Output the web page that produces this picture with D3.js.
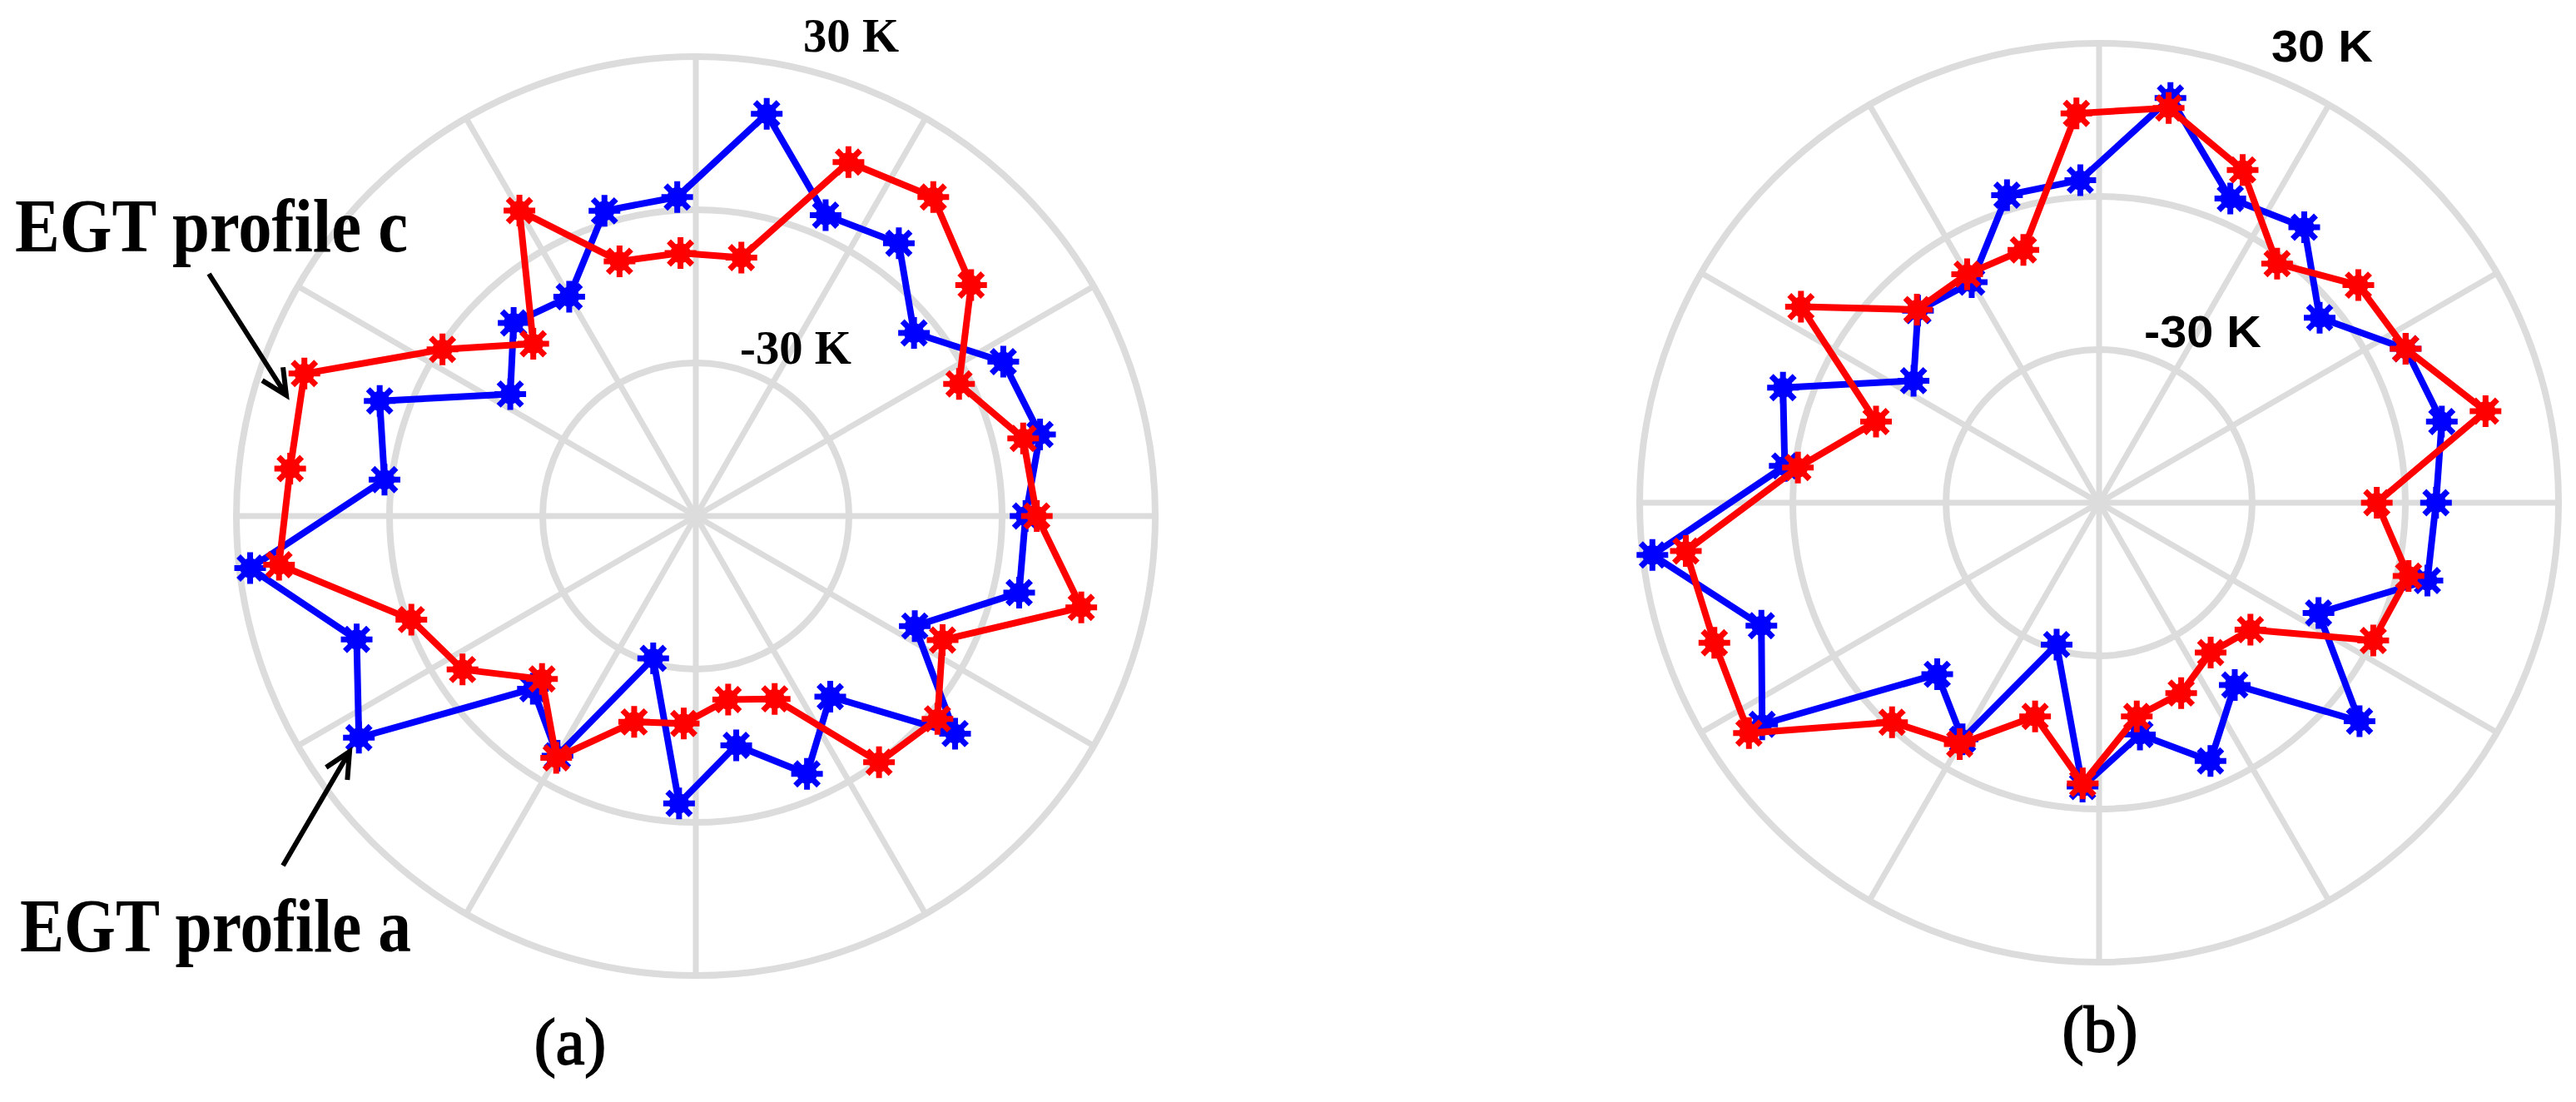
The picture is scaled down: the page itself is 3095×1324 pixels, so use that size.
<!DOCTYPE html>
<html>
<head>
<meta charset="utf-8">
<script src="https://cdn.jsdelivr.net/npm/d3@7"></script>
<style>
  body { margin: 0; background: #fff; }
</style>
</head>
<body>
<div class="svgcontainer"></div>
<script>
// 27 thermocouples around the exhaust, index 0 = 3 o'clock, counter-clockwise
const probes = d3.range(27);
const rTicks = [-30, 0, 30];
const rTickLabels = ["-30 K", "30 K"];

// panel (a)
const aProfileA = [4.6, 9.3, 7.4, -4.2, 6.6, 4.2, 20, 2.6, 2.4, -10.4, -8.0, -16.5, 5.9, 1.4, 27.9,
    10.7, 19, -13.5, -5.8, -30.9, -3.6, -14.4, -5.0, -15.9, 6.3, -12, 5.1];
const aProfileC = [6.8, 5.9, -2.3, 10.4, 17.9, 15.5, -8.6, -8.4, -7.9, 9.1, -13.6, -0.6, 21.6, 20, 22.2,
    -0.7, -5.3, -16.1, -5.3, -17.9, -19.3, -23.5, -21, 0.1, 1.8, -5.9, 17.6];

// panel (b)
const bProfileA = [6, 9, 7.2, -3.6, 7.3, 4.9, 20.5, 3.3, 2.9, -10.1, -8.3, -16.5, 5.9, 2, 28.1,
    10.4, 19, -13.8, -6.5, -31, -4.3, -13.9, -4.9, -15.5, 6.6, -11.9, 6.1];
const bProfileRed = [-5.6, 17.8, 7.2, 6.3, -1.6, 11, 18.5, 16.4, -8.3, -8.3, -8, 9.9, -13.5, -0.6, 21.5,
    20.2, 22.1, -0.9, -5.4, -16.3, -4.9, -17.5, -19.4, -23.4, -21.3, 0.1, 2.3];

const W = 3095, H = 1324;
const R = 552;
const gridColor = "#dcdcdc";

const svg = d3.select('.svgcontainer')
    .append('svg')
    .attr('width', W)
    .attr('height', H);

// k -> angle for d3 (0 at 12 o'clock, clockwise)
const angleScale = d3.scaleLinear().domain([0, 27]).range([Math.PI / 2, Math.PI / 2 - 2 * Math.PI]);
const rScale = d3.scaleLinear().domain([-60, 30]).range([0, R]);

function drawPolar(cx, cy, series, opts)
{
    const g = svg.append('g').attr('transform', `translate(${cx}, ${cy})`);

    // spokes every 30 deg
    g.selectAll('.spoke')
        .data(d3.range(12))
        .enter()
        .append('line')
        .attr('x1', 0).attr('y1', 0)
        .attr('x2', d => d3.pointRadial(d * Math.PI / 6, R)[0])
        .attr('y2', d => d3.pointRadial(d * Math.PI / 6, R)[1])
        .attr('stroke', gridColor)
        .attr('stroke-width', 7);

    g.selectAll('.ring')
        .data(rTicks)
        .enter()
        .append('circle')
        .attr('r', d => rScale(d))
        .attr('fill', 'none')
        .attr('stroke', gridColor)
        .attr('stroke-width', 8);

    // ring labels
    opts.labels.forEach(function(l, i)
    {
        g.append('text')
            .attr('x', l.dx)
            .attr('y', l.dy)
            .attr('font-family', opts.labelFont)
            .attr('font-weight', 'bold')
            .attr('font-size', opts.labelSize)
            .attr('textLength', l.len)
            .attr('lengthAdjust', 'spacingAndGlyphs')
            .text(rTickLabels[i]);
    });

    const line = d3.lineRadial()
        .angle(k => angleScale(k))
        .curve(d3.curveLinearClosed);

    series.forEach(function(s)
    {
        line.radius(k => rScale(s.values[k]));
        g.append('path')
            .attr('d', line(probes))
            .attr('fill', 'none')
            .attr('stroke', s.color)
            .attr('stroke-width', 8)
            .attr('stroke-linejoin', 'round');

        const m = g.selectAll(null)
            .data(probes)
            .enter()
            .append('g')
            .attr('transform', k => {
                const p = d3.pointRadial(angleScale(k), rScale(s.values[k]));
                return `translate(${p[0]}, ${p[1]})`;
            });
        m.append('circle')
            .attr('r', 12)
            .attr('fill', s.color);
        m.append('path')
            .attr('d', 'M-19,0L19,0M0,-19L0,19M-14,-14L14,14M-14,14L14,-14')
            .attr('stroke', s.color)
            .attr('stroke-width', 7);
    });
}

drawPolar(836, 620, [
    { values: aProfileA, color: '#0000ff' },
    { values: aProfileC, color: '#ff0000' }
], {
    labelFont: "'Liberation Serif', 'Times New Roman', serif",
    labelSize: 58,
    labels: [
        { dx: 53, dy: -183, len: 134 },
        { dx: 129, dy: -558, len: 115 }
    ]
});

drawPolar(2522, 604, [
    { values: bProfileA, color: '#0000ff' },
    { values: bProfileRed, color: '#ff0000' }
], {
    labelFont: "'Liberation Sans', Arial, sans-serif",
    labelSize: 54,
    labels: [
        { dx: 54, dy: -187, len: 141 },
        { dx: 207, dy: -530, len: 122 }
    ]
});

// annotations on panel (a)
const notes = [
    { text: "EGT profile c", x: 18, y: 302, len: 472, tail: [251, 329], head: [344, 475] },
    { text: "EGT profile a", x: 24, y: 1143, len: 470, tail: [340, 1040], head: [420, 903] }
];

notes.forEach(function(n)
{
    svg.append('text')
        .attr('x', n.x)
        .attr('y', n.y)
        .attr('font-family', "'Liberation Serif', 'Times New Roman', serif")
        .attr('font-weight', 'bold')
        .attr('font-size', 90)
        .attr('textLength', n.len)
        .attr('lengthAdjust', 'spacingAndGlyphs')
        .text(n.text);

    const ang = Math.atan2(n.head[1] - n.tail[1], n.head[0] - n.tail[0]);
    const hl = 34, spread = 0.45;
    svg.append('path')
        .attr('d', `M${n.tail[0]},${n.tail[1]}L${n.head[0]},${n.head[1]}` +
            `M${n.head[0] - hl * Math.cos(ang - spread)},${n.head[1] - hl * Math.sin(ang - spread)}` +
            `L${n.head[0]},${n.head[1]}` +
            `L${n.head[0] - hl * Math.cos(ang + spread)},${n.head[1] - hl * Math.sin(ang + spread)}`)
        .attr('fill', 'none')
        .attr('stroke', 'black')
        .attr('stroke-width', 6);
});

// panel captions
svg.selectAll('.caption')
    .data([{ t: "(a)", x: 685, y: 1278 }, { t: "(b)", x: 2523, y: 1263 }])
    .enter()
    .append('text')
    .attr('x', d => d.x)
    .attr('y', d => d.y)
    .attr('text-anchor', 'middle')
    .attr('font-family', "'Liberation Serif', 'Times New Roman', serif")
    .attr('font-size', 78)
    .attr('stroke', 'black')
    .attr('stroke-width', 1.8)
    .text(d => d.t);
</script>
</body>
</html>
